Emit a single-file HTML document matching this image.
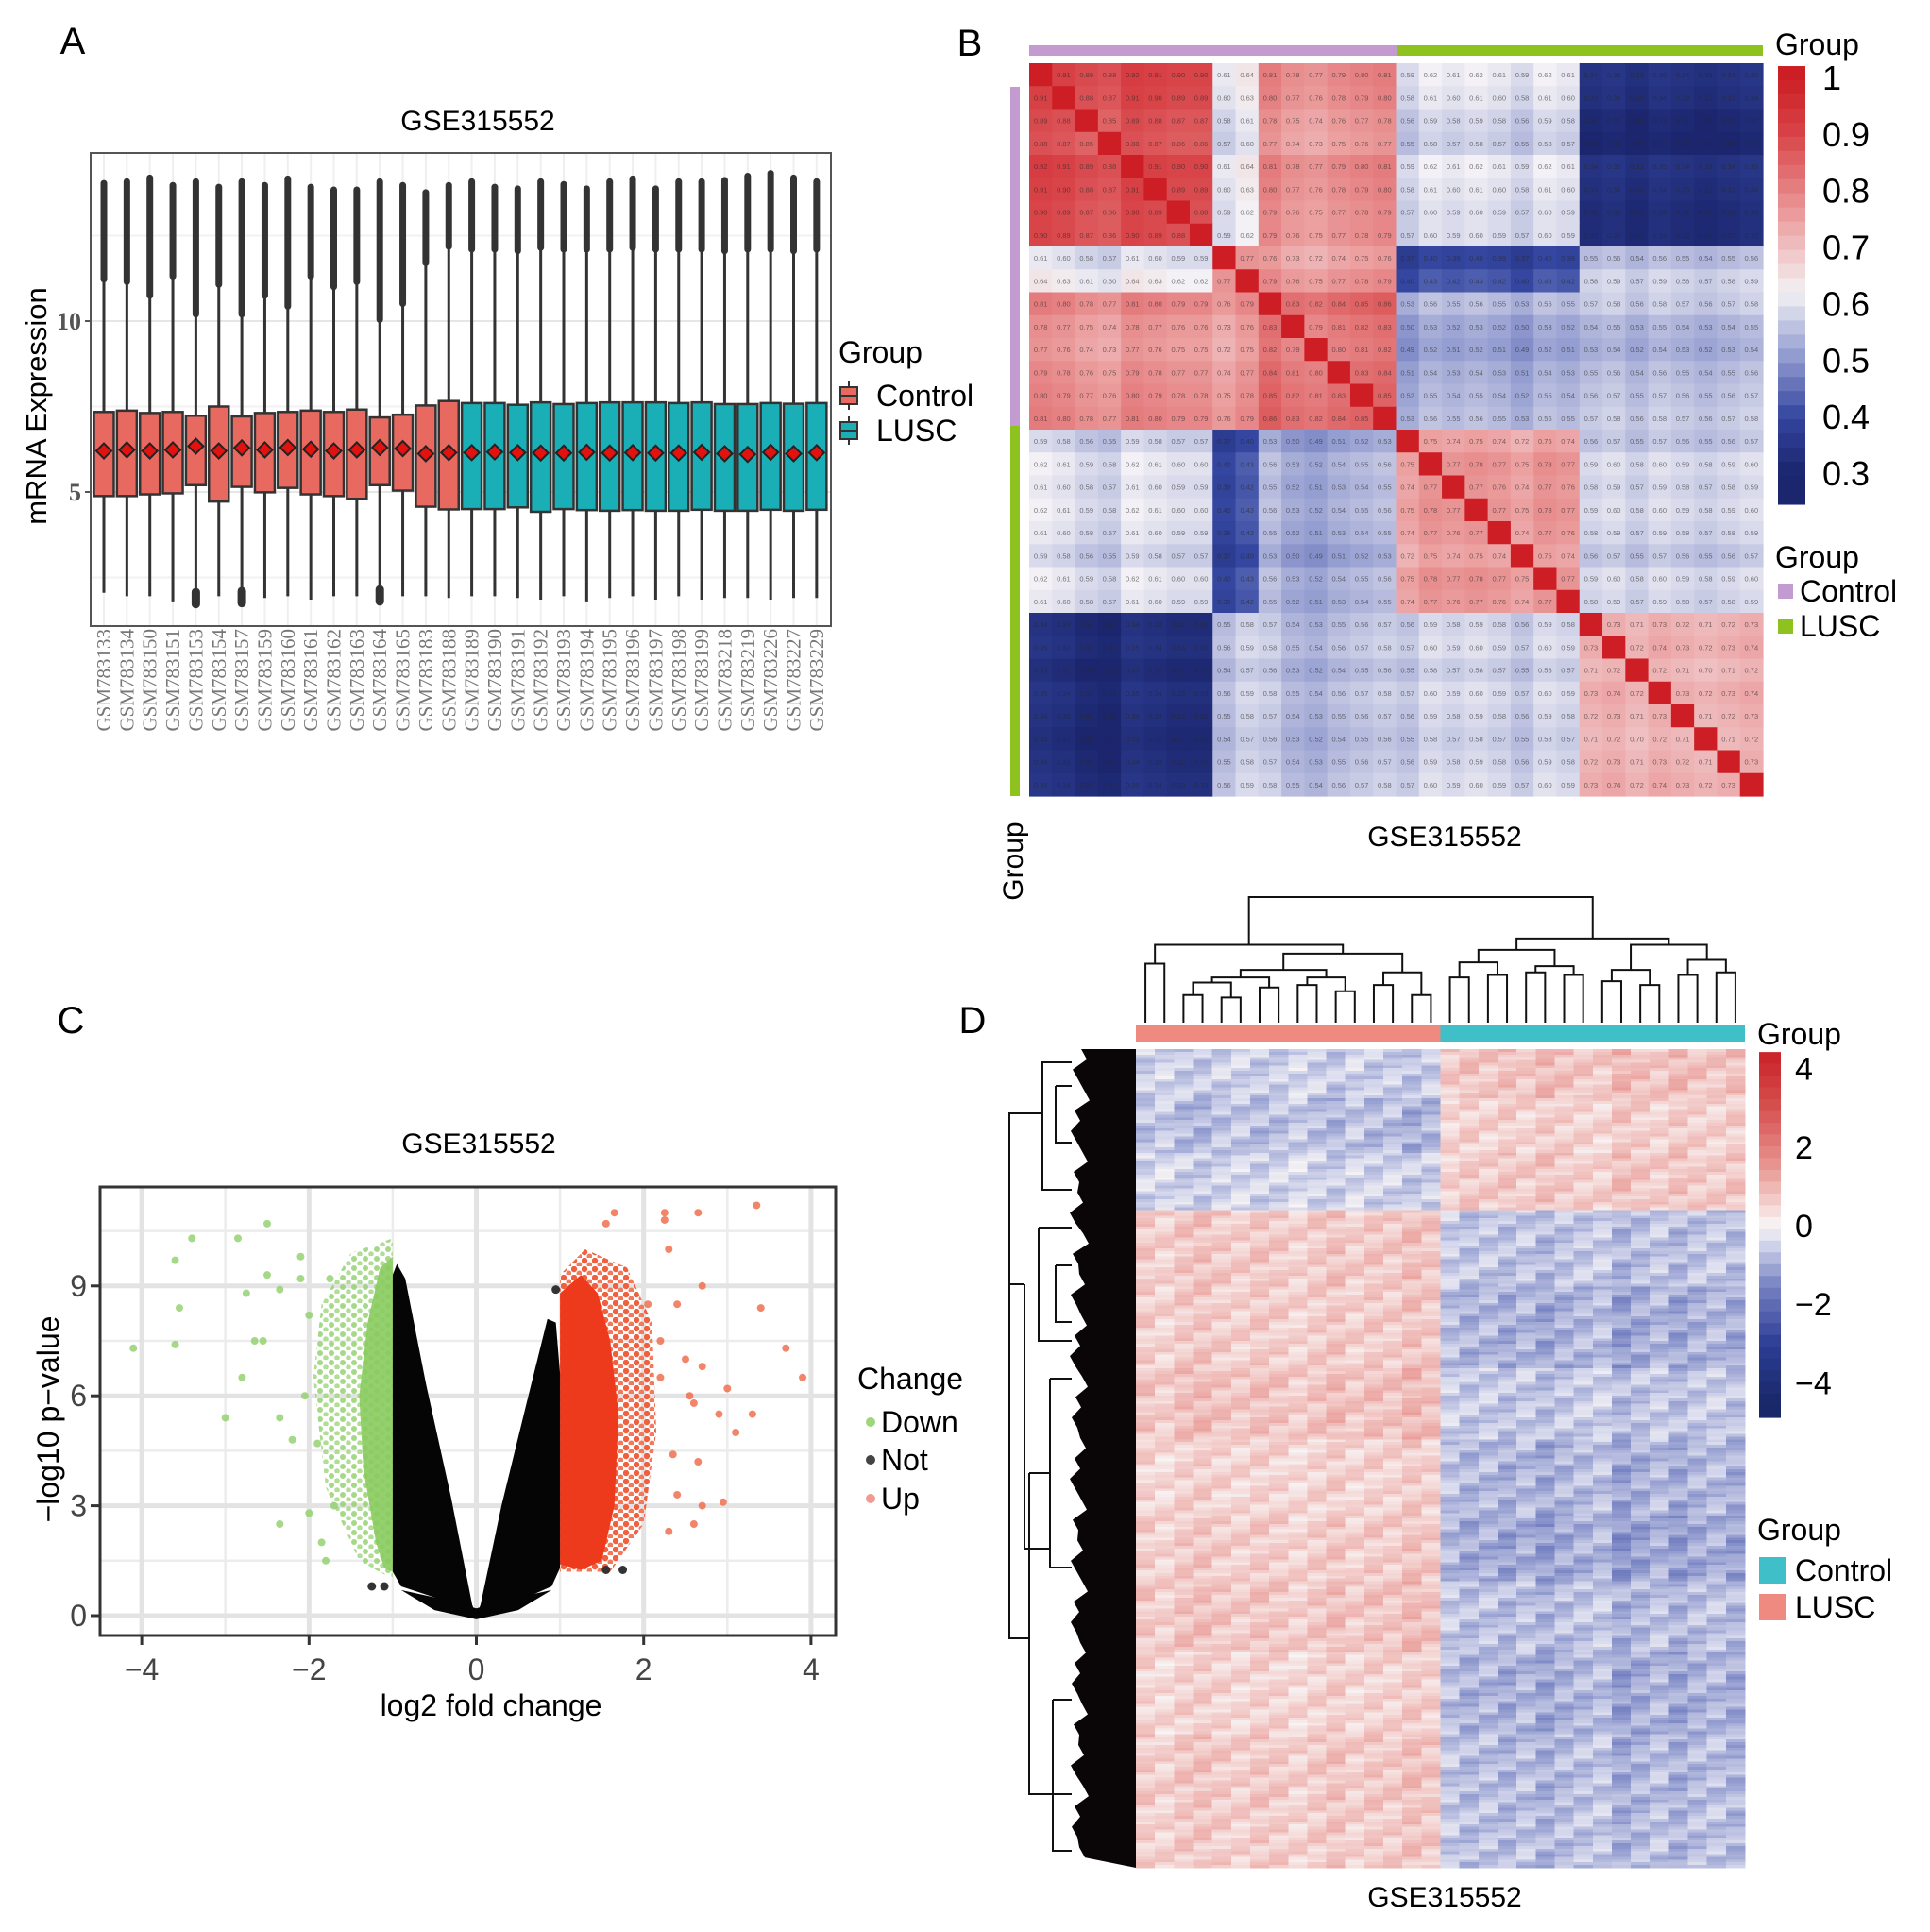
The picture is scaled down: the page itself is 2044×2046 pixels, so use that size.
<!DOCTYPE html>
<html><head><meta charset="utf-8"><style>
html,body{margin:0;padding:0;background:#fff;}
svg{display:block;font-family:"Liberation Sans",sans-serif;}
</style></head><body>
<svg id="fig" width="2044" height="2046" viewBox="0 0 2044 2046">
<defs>
<clipPath id="clipA"><rect x="96" y="162" width="784" height="501"/></clipPath>
<clipPath id="clipC"><rect x="106" y="1257" width="779" height="475"/></clipPath>
<pattern id="dotsRed" width="11" height="9" patternUnits="userSpaceOnUse"><circle cx="3" cy="3" r="3.2" fill="#f0603f"/><circle cx="8.5" cy="7.5" r="3" fill="#f27a5c"/></pattern>
<pattern id="dotsGreen" width="12" height="10" patternUnits="userSpaceOnUse"><circle cx="3" cy="3" r="3" fill="#8fd06a"/><circle cx="9" cy="8" r="2.8" fill="#9ed67a"/></pattern>
</defs>
<text x="77" y="57" font-size="40" text-anchor="middle">A</text>
<text x="1027" y="59" font-size="40" text-anchor="middle">B</text>
<text x="75" y="1094" font-size="40" text-anchor="middle">C</text>
<text x="1030" y="1094" font-size="40" text-anchor="middle">D</text>
</svg>
<script>
const NS='http://www.w3.org/2000/svg';
const svg=document.getElementById('fig');
function mk(tag,attrs,parent){const e=document.createElementNS(NS,tag);for(const k in attrs)e.setAttribute(k,attrs[k]);(parent||svg).appendChild(e);return e;}
function tx(str,x,y,attrs,parent){const e=mk('text',Object.assign({x:x,y:y},attrs),parent);e.textContent=str;return e;}

/* ---------------- Panel A data ---------------- */
const sampleNames=['GSM783133','GSM783134','GSM783150','GSM783151','GSM783153','GSM783154','GSM783157','GSM783159','GSM783160','GSM783161','GSM783162','GSM783163','GSM783164','GSM783165','GSM783183','GSM783188','GSM783189','GSM783190','GSM783191','GSM783192','GSM783193','GSM783194','GSM783195','GSM783196','GSM783197','GSM783198','GSM783199','GSM783218','GSM783219','GSM783226','GSM783227','GSM783229'];
const sampleGroup=['C','C','C','C','C','C','C','C','C','C','C','C','C','C','C','C','L','L','L','L','L','L','L','L','L','L','L','L','L','L','L','L'];
const boxQ3=[7.34,7.38,7.31,7.34,7.23,7.50,7.21,7.31,7.34,7.38,7.34,7.41,7.18,7.26,7.53,7.66,7.60,7.60,7.55,7.62,7.57,7.60,7.62,7.62,7.62,7.60,7.62,7.57,7.57,7.60,7.58,7.60];
const boxQ1=[4.88,4.88,4.93,4.96,5.20,4.72,5.15,4.99,5.12,4.93,4.88,4.80,5.20,5.04,4.57,4.49,4.50,4.50,4.55,4.42,4.50,4.47,4.45,4.47,4.45,4.45,4.48,4.45,4.45,4.48,4.45,4.48];
const boxMean=[6.20,6.23,6.20,6.23,6.34,6.20,6.29,6.23,6.30,6.25,6.20,6.23,6.30,6.27,6.12,6.15,6.15,6.17,6.15,6.14,6.14,6.16,6.14,6.15,6.14,6.14,6.16,6.12,6.10,6.16,6.12,6.15];
const whiskerHigh=[11.22,11.15,10.75,11.31,10.2,11.07,10.2,10.75,10.43,11.31,11.0,11.15,10.04,10.51,11.70,12.18,12.1,12.1,12.05,12.15,12.1,12.1,12.1,12.15,12.1,12.1,12.1,12.05,12.1,12.1,12.05,12.1];
const valueMax=[14.03,14.08,14.19,13.97,14.08,13.92,14.08,13.97,14.16,13.92,13.84,13.84,14.08,13.97,13.76,13.97,14.08,13.92,13.87,14.08,14.0,13.87,14.08,14.16,13.87,14.08,14.08,14.12,14.24,14.32,14.19,14.08];
const valueMin=[2.05,1.95,1.95,1.8,2.0,1.95,2.0,1.9,1.95,1.85,1.95,1.95,2.0,1.95,1.95,1.9,1.95,1.95,1.9,1.85,1.95,1.8,1.9,1.95,1.85,1.95,1.85,1.9,1.9,1.85,1.9,1.9];
const lowOutlierMin=[null,null,null,null,1.72,null,1.75,null,null,null,null,null,1.8,null,null,null,null,null,null,null,null,null,null,null,null,null,null,null,null,null,null,null];
const yTicksA=[5,10];
const yGridA=[2.5,5,7.5,10,12.5];

const xA=i=>110+i*24.35;
const yA=v=>702-v*36.2;
{
  const g=mk('g',{});
  
  
  const t=tx('GSE315552',506,138,{'font-size':30,'text-anchor':'middle'},g);
  
  
  const bg=mk('rect',{x:96,y:162,width:784,height:501,fill:'#fff'},g);
  
  
  const grid=mk('g',{'clip-path':'url(#clipA)'},g);
  
  
  yGridA.forEach(v=>{const l=mk('line',{x1:96,x2:880,y1:yA(v),y2:yA(v),stroke:v%5===0?'#e6e6e6':'#f2f2f2','stroke-width':2},grid);
    
    });
  sampleNames.forEach((n,i)=>{const l=mk('line',{x1:xA(i),x2:xA(i),y1:162,y2:663,stroke:'#efefef','stroke-width':2},grid);
    
    });
  const marks=mk('g',{'clip-path':'url(#clipA)'},g);
  sampleNames.forEach((n,i)=>{
    const x=xA(i);
    const bx=mk('g',{},marks);
    
    
    mk('line',{x1:x,x2:x,y1:yA(valueMin[i]),y2:yA(boxQ1[i]),stroke:'#333','stroke-width':3},bx);
    if(lowOutlierMin[i]!==null) mk('line',{x1:x,x2:x,y1:yA(lowOutlierMin[i]),y2:yA(lowOutlierMin[i]+0.35),stroke:'#333','stroke-width':9,'stroke-linecap':'round'},bx);
    mk('line',{x1:x,x2:x,y1:yA(boxQ3[i]),y2:yA(whiskerHigh[i]),stroke:'#333','stroke-width':3},bx);
    mk('line',{x1:x,x2:x,y1:yA(whiskerHigh[i]),y2:yA(valueMax[i]),stroke:'#333','stroke-width':7,'stroke-linecap':'round'},bx);
    mk('rect',{x:x-10.5,y:yA(boxQ3[i]),width:21,height:yA(boxQ1[i])-yA(boxQ3[i]),fill:sampleGroup[i]==='C'?'#e8695f':'#1aafb6',stroke:'#333','stroke-width':2.5},bx);
    const m=yA(boxMean[i]);
    mk('polygon',{points:`${x},${m-8} ${x+8},${m} ${x},${m+8} ${x-8},${m}`,fill:'#e3120f',stroke:'#222','stroke-width':2},bx);
    const lab=tx(n,x+7,666,{'font-size':21,'font-family':'"Liberation Serif",serif',fill:'#777','text-anchor':'end',transform:`rotate(-90 ${x+7} 666)`},g);
    
    
  });
  const br=mk('rect',{x:96,y:162,width:784,height:501,fill:'none',stroke:'#555','stroke-width':2},g);
  
  
  yTicksA.forEach(v=>{
    mk('line',{x1:90,x2:96,y1:yA(v),y2:yA(v),stroke:'#555','stroke-width':2},g);
    const tl=tx(String(v),86,yA(v)+9,{'font-size':26,'font-weight':'bold','font-family':'"Liberation Serif",serif',fill:'#555','text-anchor':'end'},g);
    
    
  });
  const yt=tx('mRNA Expression',49,430,{'font-size':31,'text-anchor':'middle',transform:'rotate(-90 49 430)'},g);
  
  
  const lg=mk('g',{},g);
  
  
  tx('Group',888,384,{'font-size':32},lg);
  [['Control','#e8695f',419],['LUSC','#1aafb6',456]].forEach(([n,c,cy])=>{
    const e=mk('g',{},lg);
    
    
    mk('line',{x1:899,x2:899,y1:cy-15,y2:cy+15,stroke:'#333','stroke-width':2},e);
    mk('rect',{x:890,y:cy-9,width:18,height:18,fill:c,stroke:'#333','stroke-width':2},e);
    mk('line',{x1:890,x2:908,y1:cy,y2:cy,stroke:'#333','stroke-width':2},e);
    tx(n,928,cy+11,{'font-size':32},e);
  });
}

/* ---------------- Panel B data ---------------- */
const corrGroupOfRow=[0,0,0,0,0,0,0,0,1,1,2,2,2,2,2,2,3,3,3,3,3,3,3,3,4,4,4,4,4,4,4,4];
const corrBlock0=[0.90,0.62,0.78,0.60,0.33];
const corrBlock1=[0.62,0.78,0.76,0.41,0.57];
const corrBlock2=[0.78,0.76,0.82,0.53,0.55];
const corrBlock3=[0.60,0.41,0.53,0.76,0.58];
const corrBlock4=[0.33,0.57,0.55,0.58,0.72];
const corrRowAdj=[0.01,0.0,-0.02,-0.03,0.01,0.0,-0.01,-0.01,-0.02,0.01,0.02,-0.01,-0.02,0.0,0.01,0.02,-0.02,0.01,0.0,0.01,0.0,-0.02,0.01,0.0,0.0,0.01,-0.01,0.01,0.0,-0.01,0.0,0.01];
const corrTicks=[1,0.9,0.8,0.7,0.6,0.5,0.4,0.3];
const corrBlocks=[corrBlock0,corrBlock1,corrBlock2,corrBlock3,corrBlock4];

function colorOf(stops,v){
  if(v<=stops[0][0]){const c=stops[0][1];return `rgb(${c[0]},${c[1]},${c[2]})`;}
  for(let k=1;k<stops.length;k++){if(v<=stops[k][0]){const a=stops[k-1],b=stops[k];const t=(v-a[0])/(b[0]-a[0]);
    const ca=a[1],cb=b[1];return `rgb(${Math.round(ca[0]+(cb[0]-ca[0])*t)},${Math.round(ca[1]+(cb[1]-ca[1])*t)},${Math.round(ca[2]+(cb[2]-ca[2])*t)})`;}}
  const c=stops[stops.length-1][1];return `rgb(${c[0]},${c[1]},${c[2]})`;
}
const stopsB=[[0.3,[27,38,110]],[0.4,[52,70,160]],[0.5,[140,150,205]],[0.62,[243,241,245]],[0.75,[236,160,160]],[0.9,[216,68,72]],[1.0,[204,30,36]]];
{
  const g=mk('g',{});
  
  
  const x0=1090,y0=67,cw=(1867-1090)/32,ch=(843-67)/32;
  const cells=mk('g',{},g);
  
  
  for(let i=0;i<32;i++)for(let j=0;j<32;j++){
    let v=i===j?1:corrBlocks[corrGroupOfRow[i]][corrGroupOfRow[j]]+corrRowAdj[i]+corrRowAdj[j];
    const r=mk('rect',{x:x0+j*cw,y:y0+i*ch,width:cw+0.6,height:ch+0.6,fill:colorOf(stopsB,v)},cells);
    
    
    if(i!==j){tx(v.toFixed(2),x0+j*cw+cw/2,y0+i*ch+ch/2+3,{'font-size':7.5,'text-anchor':'middle',fill:'rgba(40,40,40,0.6)'},cells);}
  }
  const tb1=mk('rect',{x:1090,y:48,width:389,height:11,fill:'#c49bd0'},g);
  
  
  const tb2=mk('rect',{x:1479,y:48,width:388,height:11,fill:'#8dc21f'},g);
  
  
  const lb1=mk('rect',{x:1070,y:92,width:10,height:359,fill:'#c49bd0'},g);
  
  
  const lb2=mk('rect',{x:1070,y:451,width:10,height:392,fill:'#8dc21f'},g);
  
  
  const cb=mk('g',{},g);
  
  
  const yB=v=>82+(1-v)*598.6;
  for(let v=1.02;v>0.26;v-=0.025){mk('rect',{x:1883,y:yB(v),width:29,height:0.025*598.6+0.6,fill:colorOf(stopsB,v-0.0125)},cb);}
  corrTicks.forEach(v=>{const t=tx(String(v),1930,yB(v)+13,{'font-size':36},cb);
    
    });
  tx('Group',1880,58,{'font-size':32},g);
  const lg=mk('g',{},g);
  
  
  tx('Group',1880,601,{'font-size':32},lg);
  [['Control','#c49bd0',626],['LUSC','#8dc21f',663]].forEach(([n,c,cy])=>{
    const e=mk('g',{},lg);
    
    
    mk('rect',{x:1883,y:cy-8,width:16,height:16,fill:c},e);
    tx(n,1906,cy+11,{'font-size':32},e);
  });
  const t=tx('GSE315552',1530,896,{'font-size':30,'text-anchor':'middle'},g);
  
  
  const gt=tx('Group',1083,912,{'font-size':30,'text-anchor':'middle',transform:'rotate(-90 1083 912)'},g);
  
  
}

/* ---------------- Panel C data ---------------- */
const xTicksC=[-4,-2,0,2,4];
const yTicksC=[0,3,6,9];
const xMinorC=[-3,-1,1,3];
const yMinorC=[1.5,4.5,7.5,10.5];
const notLeftX=[0,-0.5,-0.9,-1.0,-1.0,-0.95,-0.85,-0.6,-0.3,-0.05];
const notLeftY=[0,0.5,0.8,1.2,9.3,9.6,9.2,6.3,3.2,0.3];
const notRightX=[0,0.5,0.9,1.0,1.0,0.95,0.85,0.6,0.3,0.05];
const notRightY=[0,0.4,0.8,1.3,6.6,8.0,8.1,5.8,3.0,0.3];
const notBaseX=[-0.9,-0.5,0,0.5,0.9,0.5,0,-0.5];
const notBaseY=[0.7,0.15,-0.1,0.15,0.7,0.5,0.2,0.5];
const upCoreX=[1.0,1.25,1.5,1.65,1.7,1.6,1.45,1.25,1.0];
const upCoreY=[1.4,1.25,1.5,3.0,5.5,7.5,8.8,9.3,8.8];
const upHaloX=[1.0,1.6,2.0,2.15,2.1,1.8,1.3,1.0];
const upHaloY=[1.2,1.2,2.5,5.0,8.0,9.5,10.0,9.3];
const downCoreX=[-1.0,-1.0,-1.15,-1.3,-1.4,-1.35,-1.2,-1.1];
const downCoreY=[1.2,9.8,9.5,8.0,6.0,4.0,2.0,1.3];
const downHaloX=[-1.0,-1.4,-1.8,-1.95,-1.85,-1.5,-1.0];
const downHaloY=[1.0,1.5,3.5,6.5,8.5,9.9,10.3];
const downPtX=[-4.1,-3.6,-3.55,-3.6,-3.4,-3.0,-2.85,-2.8,-2.75,-2.65,-2.55,-2.5,-2.5,-2.35,-2.35,-2.35,-2.1,-2.1,-2.0,-2.0,-1.9,-1.85,-1.8,-2.2,-1.7,-1.75,-2.05];
const downPtY=[7.3,9.7,8.4,7.4,10.3,5.4,10.3,6.5,8.8,7.5,7.5,10.7,9.3,8.9,5.4,2.5,9.8,9.2,8.2,2.8,4.7,2.0,1.5,4.8,3.0,9.2,6.0];
const upPtX=[1.65,2.25,2.65,3.35,2.25,2.3,1.55,2.4,2.7,3.4,3.7,3.9,3.0,2.55,2.6,2.9,3.3,3.1,2.35,2.65,2.4,2.7,2.95,2.3,2.6,2.2,2.5,2.05,2.2,2.7];
const upPtY=[11.0,11.0,11.0,11.2,10.8,10.0,10.7,8.5,9.0,8.4,7.3,6.5,6.2,6.0,5.8,5.5,5.5,5.0,4.4,4.2,3.3,3.0,3.1,2.3,2.5,7.5,7.0,8.5,6.5,6.8];
const notPtX=[-1.25,-1.1,1.55,1.75,0.95];
const notPtY=[0.8,0.8,1.25,1.25,8.9];

const xC=v=>504.5+v*88.6;
const yC=v=>1711-v*38.8;
{
  const g=mk('g',{});
  
  
  const t=tx('GSE315552',507,1221,{'font-size':30,'text-anchor':'middle'},g);
  
  
  const grid=mk('g',{'clip-path':'url(#clipC)'},g);
  
  
  xMinorC.forEach(v=>mk('line',{x1:xC(v),x2:xC(v),y1:1257,y2:1732,stroke:'#ececec','stroke-width':2.5},grid));
  yMinorC.forEach(v=>mk('line',{x1:106,x2:885,y1:yC(v),y2:yC(v),stroke:'#ececec','stroke-width':2.5},grid));
  xTicksC.forEach(v=>mk('line',{x1:xC(v),x2:xC(v),y1:1257,y2:1732,stroke:'#e3e3e3','stroke-width':5},grid));
  yTicksC.forEach(v=>mk('line',{x1:106,x2:885,y1:yC(v),y2:yC(v),stroke:'#e3e3e3','stroke-width':5},grid));
  const pts=(xs,ys)=>xs.map((x,k)=>xC(x)+','+yC(ys[k])).join(' ');
  const marks=mk('g',{'clip-path':'url(#clipC)'},g);
  const dh=mk('polygon',{points:pts(downHaloX,downHaloY),fill:'url(#dotsGreen)',opacity:0.8},marks);
  
  
  const dc=mk('polygon',{points:pts(downCoreX,downCoreY),fill:'#8acb5f',opacity:0.9},marks);
  
  
  const uh=mk('polygon',{points:pts(upHaloX,upHaloY),fill:'url(#dotsRed)'},marks);
  
  
  const uc=mk('polygon',{points:pts(upCoreX,upCoreY),fill:'#ee3a1c'},marks);
  
  
  const nl=mk('polygon',{points:pts(notLeftX,notLeftY),fill:'#050505'},marks);
  
  
  const nr=mk('polygon',{points:pts(notRightX,notRightY),fill:'#050505'},marks);
  
  
  const nb=mk('polygon',{points:pts(notBaseX,notBaseY),fill:'#050505'},marks);
  
  
  downPtX.forEach((x,k)=>{const c=mk('circle',{cx:xC(x),cy:yC(downPtY[k]),r:4,fill:'#8fd06a',opacity:0.8},marks);
    
    });
  upPtX.forEach((x,k)=>{const c=mk('circle',{cx:xC(x),cy:yC(upPtY[k]),r:4,fill:'#f0704f',opacity:0.85},marks);
    
    });
  notPtX.forEach((x,k)=>{const c=mk('circle',{cx:xC(x),cy:yC(notPtY[k]),r:4.5,fill:'#333'},marks);
    
    });
  const br=mk('rect',{x:106,y:1257,width:779,height:475,fill:'none',stroke:'#333','stroke-width':3},g);
  
  
  xTicksC.forEach(v=>{mk('line',{x1:xC(v),x2:xC(v),y1:1732,y2:1742,stroke:'#333','stroke-width':3},g);
    const tl=tx(v<0?'\u2212'+Math.abs(v):String(v),xC(v),1779,{'font-size':32,fill:'#444','text-anchor':'middle'},g);
    
    });
  yTicksC.forEach(v=>{mk('line',{x1:96,x2:106,y1:yC(v),y2:yC(v),stroke:'#333','stroke-width':3},g);
    const tl=tx(String(v),92,yC(v)+11,{'font-size':32,fill:'#444','text-anchor':'end'},g);
    
    });
  const xt=tx('log2 fold change',520,1817,{'font-size':32,'text-anchor':'middle'},g);
  
  
  const yt=tx('\u2212log10 p\u2212value',62,1503,{'font-size':32,'text-anchor':'middle',transform:'rotate(-90 62 1503)'},g);
  
  
  const lg=mk('g',{},g);
  
  
  tx('Change',908,1471,{'font-size':32},lg);
  [['Down','#9ed67a',1506],['Not','#444',1546],['Up','#f29a90',1587]].forEach(([n,c,cy])=>{
    const e=mk('g',{},lg);
    
    
    mk('circle',{cx:922,cy:cy,r:5,fill:c},e);
    tx(n,933,cy+11,{'font-size':32},e);
  });
}

/* ---------------- Panel D data ---------------- */
const bandGenes=[18,20,21,28,30,26,28,24,26,30,26,23];
const bandLusc=[-0.55,-0.75,-0.5,0.65,0.6,0.75,0.5,0.6,0.7,0.5,0.65,0.6];
const bandCtrl=[0.7,0.5,0.6,-0.65,-0.85,-0.6,-0.8,-0.95,-0.7,-0.85,-0.75,-0.7];
const colEffect=[1.0,0.8,1.1,1.2,1.0,0.9,1.1,1.0,0.8,1.0,1.2,0.9,1.1,1.0,1.3,1.1,0.9,1.1,1.0,1.2,1.0,1.3,1.1,1.0,0.9,1.4,1.2,1.0,1.3,1.1,1.0,1.2];
const geneNoise=[0.3,-0.2,0.1,-0.4,0.2,0.0,-0.3,0.4,-0.1,0.2,-0.2,0.35,-0.35,0.1,0.0,-0.15,0.25,-0.05,0.3,-0.3,0.15,-0.25,0.05,0.4,-0.1];
const heatTicks=[4,2,0,-2,-4];
const colTree=[1,[0.62,[0.47,0,1],[0.55,[0.42,[0.36,[0.32,[0.22,2,3],[0.2,4,5]],[0.28,6,7]],[0.36,[0.3,8,9],[0.25,10,11]]],[0.4,[0.3,12,13],[0.22,14,15]]]],[0.67,[0.58,[0.48,[0.36,16,17],[0.38,18,19]],[0.45,[0.4,20,21],[0.38,22,23]]],[0.62,[0.42,[0.33,24,25],[0.3,26,27]],[0.5,[0.38,28,29],[0.4,30,31]]]]];
const stopsD=[[-4.5,[25,40,105]],[-3,[45,62,150]],[-1.5,[120,132,195]],[-0.4,[218,220,238]],[0,[247,244,244]],[0.5,[244,214,212]],[1.5,[232,150,146]],[3,[214,80,80]],[4.5,[200,30,36]]];
{
  const g=mk('g',{});
  
  
  const x0=1203,y0=1111,W=645,H=867;
  const nG=bandGenes.reduce((a,b)=>a+b,0);
  const cw=W/32,rh=H/nG;
  const cells=mk('g',{'shape-rendering':'crispEdges'},g);
  
  
  let gi=0;
  bandGenes.forEach((cnt,b)=>{
    for(let k=0;k<cnt;k++,gi++){
      for(let c=0;c<32;c++){
        const v=(c<16?bandLusc[b]:bandCtrl[b])*colEffect[c]+geneNoise[(gi*7+c*3)%25];
        const r=mk('rect',{x:(x0+c*cw).toFixed(2),y:(y0+gi*rh).toFixed(2),width:(cw+0.5).toFixed(2),height:(rh+0.5).toFixed(2),fill:colorOf(stopsD,v)},cells);
        
        
      }
    }
  });
  const a1=mk('rect',{x:1203,y:1085,width:322.5,height:19,fill:'#ef8a80'},g);
  
  
  const a2=mk('rect',{x:1525.5,y:1085,width:322.5,height:19,fill:'#3fbfc8'},g);
  
  
  const dend=mk('g',{},g);
  
  
  const yH=h=>1083-h*133;
  function draw(node){
    if(typeof node==='number')return {x:x0+(node+0.5)*cw,h:0};
    const a=draw(node[1]),b=draw(node[2]);const y=yH(node[0]);
    mk('path',{d:`M${a.x},${yH(a.h)}V${y}H${b.x}V${yH(b.h)}`,fill:'none',stroke:'#111','stroke-width':2},dend);
    return {x:(a.x+b.x)/2,h:node[0]};
  }
  draw(colTree);
  const rd=mk('g',{},g);
  
  
  let p='M1203,1111 ';
  const jag=[1145,1136,1148,1138,1134,1146,1137,1141,1133,1147,1136,1143,1134,1145,1138,1133,1146,1139,1135,1144,1138,1133,1145,1136,1141,1134,1146,1137,1134,1144,1138,1135,1146,1137,1142,1134,1147,1138,1135,1143];
  jag.forEach((x,k)=>{p+=`L${x},${1111+k*(H/jag.length)} L${x+6},${1111+(k+0.5)*(H/jag.length)} `;});
  p+='L1203,1978 Z';
  mk('path',{d:p,fill:'#0a0507'},rd);
  const rl='M1135,1125 H1104 V1260 H1135 M1104,1179 H1069 V1735 H1090 M1090,1560 V1900 H1135 M1090,1560 H1112 M1112,1460 V1660 H1135 M1112,1460 H1135 M1100,1300 V1420 H1135 M1100,1300 H1135 M1085,1360 V1640 M1069,1360 H1085 M1085,1640 H1112 M1115,1800 V1960 H1135 M1115,1800 H1135 M1118,1150 H1135 M1118,1150 V1210 H1135 M1118,1340 V1400 H1135 M1118,1340 H1135';
  mk('path',{d:rl,fill:'none',stroke:'#111','stroke-width':2},rd);
  const cb=mk('g',{},g);
  
  
  const yD=v=>1298-v*41.6;
  for(let v=4.42;v>-4.64;v-=0.3){mk('rect',{x:1863,y:yD(v),width:23,height:0.3*41.6+0.6,fill:colorOf(stopsD,v-0.15)},cb);}
  heatTicks.forEach(v=>{const t=tx(v<0?'\u2212'+Math.abs(v):String(v),1901,yD(v)+12,{'font-size':34},cb);
    
    });
  tx('Group',1861,1106,{'font-size':32},g);
  const lg=mk('g',{},g);
  
  
  tx('Group',1861,1631,{'font-size':32},lg);
  [['Control','#3fbfc8',1663],['LUSC','#ef8a80',1702]].forEach(([n,c,cy])=>{
    const e=mk('g',{},lg);
    
    
    mk('rect',{x:1863,y:cy-14,width:28,height:28,fill:c},e);
    tx(n,1901,cy+11,{'font-size':32},e);
  });
  const t=tx('GSE315552',1530,2019,{'font-size':30,'text-anchor':'middle'},g);
  
  
}
</script>
</body></html>
